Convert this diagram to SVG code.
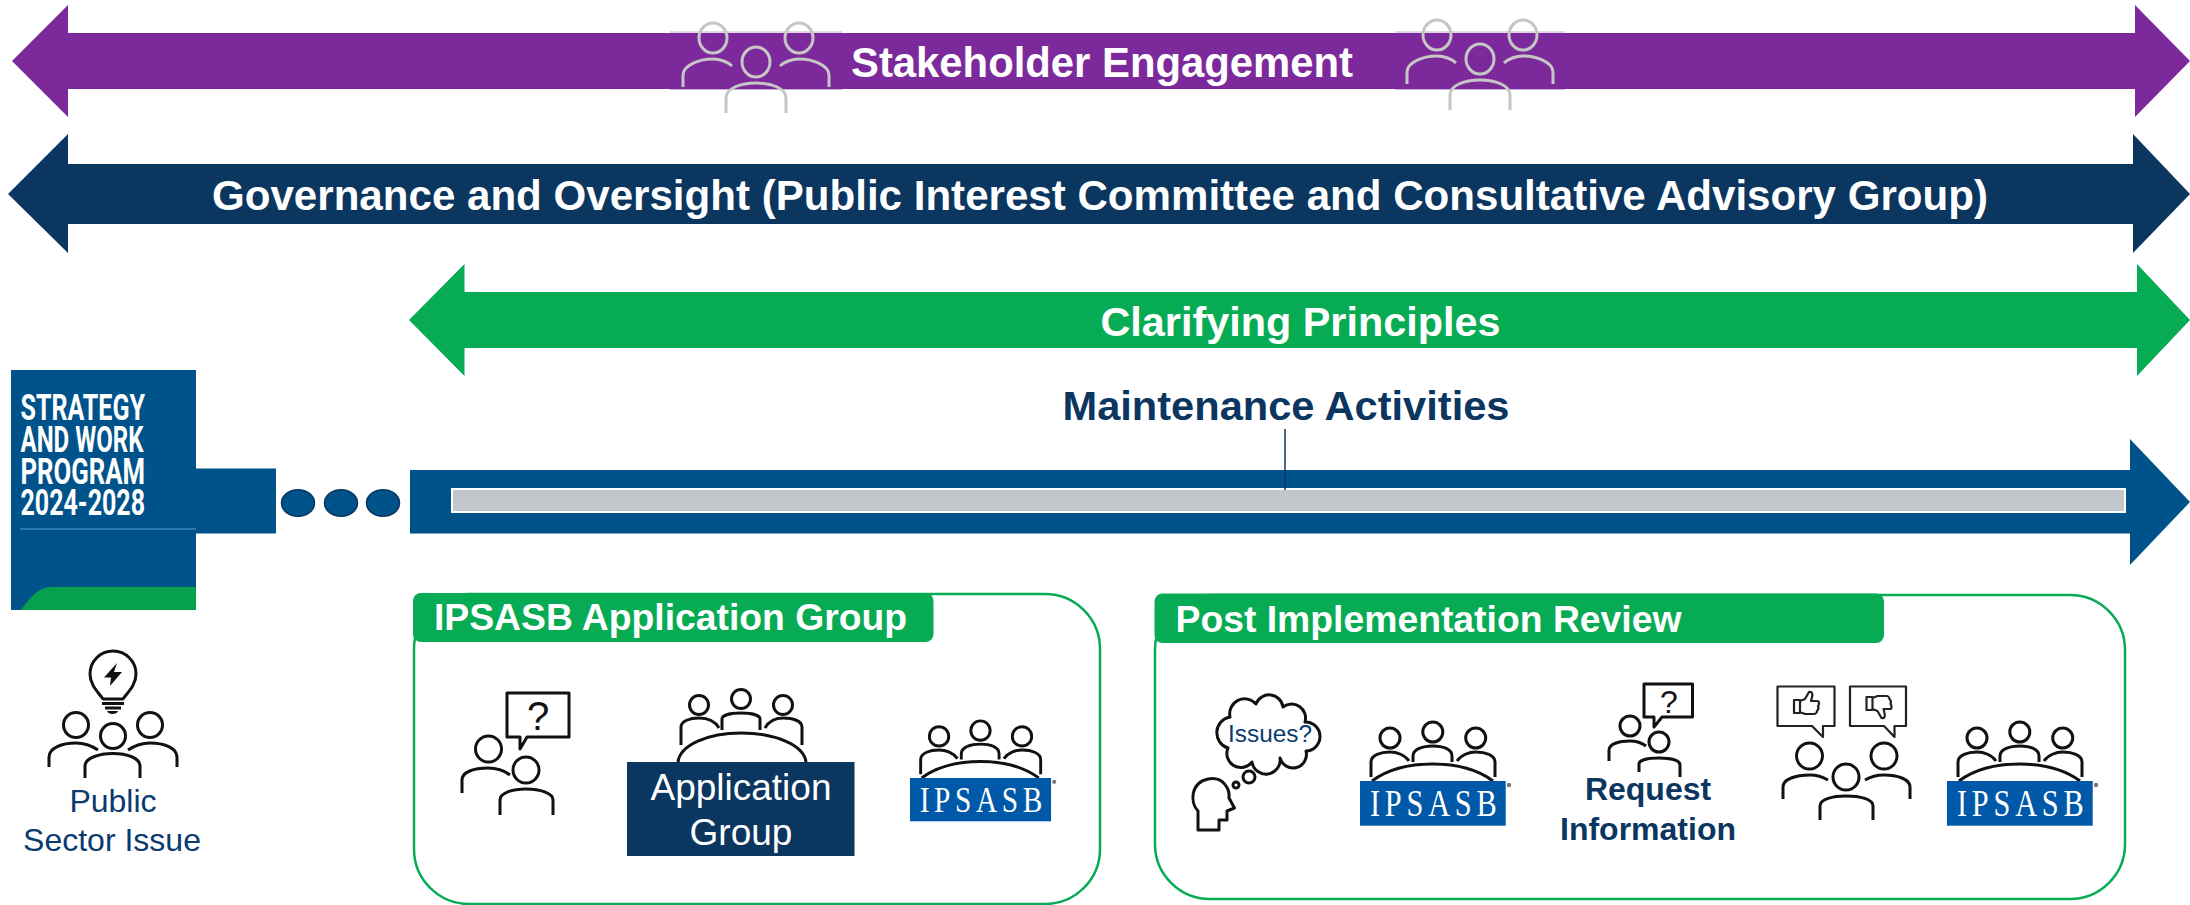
<svg xmlns="http://www.w3.org/2000/svg" width="2190" height="905" viewBox="0 0 2190 905">
<style>
text{font-family:"Liberation Sans",Arial,sans-serif}
.w{fill:#fff}.b{font-weight:700}.n{fill:#0a365f}
.ic{fill:none;stroke:#111;stroke-width:3;stroke-linecap:butt;stroke-linejoin:round}
.th{fill:none;stroke:#222;stroke-width:2.2;stroke-linejoin:round}
.gr{fill:none;stroke:#c6c6c6;stroke-width:3}
.panel{fill:#fff;stroke:#07ab54;stroke-width:2.5}
.tab{fill:#07ab54}
.q{fill:#111}
.cov{font-family:Roboto,sans-serif;font-size:36px;font-weight:700;fill:#fff}
.dot{fill:#00538a;stroke:#0a365f;stroke-width:1.5}
</style>
<defs>
<g id="ipsasb-logo">
<circle class="ic" cx="30" cy="-43" r="10"/><circle class="ic" cx="72.8" cy="-49" r="10"/><circle class="ic" cx="115.7" cy="-43" r="10"/>
<path class="ic" d="M11 -4V-19C11 -26 21 -29 30 -29C37 -29 45 -26 49 -20"/>
<path class="ic" d="M53 -19V-25C53 -32 63 -35 72.8 -35C83 -35 92 -32 92 -25V-19"/>
<path class="ic" d="M97 -20C101 -26 109 -29 116 -29C125 -29 135 -26 135 -19V-4"/>
<path class="ic" d="M12 0C28 -12 50 -17 72.8 -17C95 -17 117 -12 133 0"/>
<rect x="0" y="0" width="145.7" height="44.7" fill="#0058a8"/>
<text transform="translate(10,35) scale(.82,1)" font-size="37" textLength="154.500" lengthAdjust="spacing" class="w" style="font-family:'Liberation Serif',serif">IPSASB</text>
<circle cx="149" cy="4" r="2.2" fill="#777"/>
</g>
<path id="thumb" class="th" d="M-12 -4H-6V9H-12ZM-6 -3L-1 -5L3 -12C6 -13 7 -10 6 -7L5 -3H11C14 -3 13 1 12 2C13 4 12 6 11 7C11 9 9 10 8 10H-1L-6 8"/>
<g id="stake">
<ellipse class="gr" cx="-43" cy="0" rx="14" ry="15"/><ellipse class="gr" cx="43" cy="0" rx="14" ry="15"/><ellipse class="gr" cx="0" cy="24" rx="14" ry="15"/>
<path class="gr" d="M-73 49V37C-73 28 -58 21 -43 21C-36 21 -28 24 -24 28"/>
<path class="gr" d="M73 49V37C73 28 58 21 43 21C36 21 28 24 24 28"/>
<path class="gr" d="M-30 75V60C-30 50 -15 45 0 45C15 45 30 50 30 60V75"/>
</g>
</defs>
<rect width="2190" height="905" fill="#fff"/>

<g id="connectors">
<rect x="196" y="468.500" width="80" height="65" fill="#00538a"/>
<ellipse class="dot" cx="298" cy="503" rx="16.500" ry="13.300"/>
<ellipse class="dot" cx="341" cy="503" rx="16.500" ry="13.300"/>
<ellipse class="dot" cx="383" cy="503" rx="16.500" ry="13.300"/>
</g>

<g id="stakeholder-engagement">
<polygon points="12,61 68,5 68,33 2135,33 2135,5 2190,61 2135,117 2135,89 68,89 68,117" fill="#7c2a9b"/>
<path d="M670 32H842M670 89.500H842M1395 32H1565M1395 89.500H1565" stroke="#c7aed3" stroke-width="1" fill="none"/>
<use href="#stake" transform="translate(756,38)"/>
<use href="#stake" transform="translate(1480,35)"/>
<text x="851" y="77" font-size="41.800" textLength="502" lengthAdjust="spacingAndGlyphs" class="w b">Stakeholder Engagement</text>
</g>

<g id="governance">
<polygon points="8,194 68,134 68,164 2133,164 2133,134 2190,194 2133,253 2133,224 68,224 68,253" fill="#0a365f"/>
<text x="212" y="210" font-size="41.800" textLength="1776" lengthAdjust="spacingAndGlyphs" class="w b">Governance and Oversight (Public Interest Committee and Consultative Advisory Group)</text>
</g>

<g id="clarifying-principles">
<polygon points="409,320 464.500,264 464.500,292 2137,292 2137,264 2190,320 2137,376 2137,348 464.500,348 464.500,376" fill="#07ab54"/>
<text x="1100.500" y="336" font-size="41.500" textLength="400" lengthAdjust="spacingAndGlyphs" class="w b">Clarifying Principles</text>
</g>

<g id="maintenance-activities">
<polygon points="410,470 2130,470 2130,439 2190,502 2130,565 2130,533.500 410,533.500" fill="#00538a"/>
<rect x="452" y="489" width="1673" height="23" fill="#c1c6ca" stroke="#fff" stroke-width="2"/>
<line x1="1285" y1="429" x2="1285" y2="490" stroke="#0a365f" stroke-width="1.500"/>
<text x="1062.500" y="420" font-size="41.500" textLength="447" lengthAdjust="spacingAndGlyphs" class="n b">Maintenance Activities</text>
</g>

<g id="strategy-cover">
<rect x="11" y="370" width="185" height="240" fill="#00538a"/>
<path d="M21 610C30 598 38 587 52 587H196V610Z" fill="#07a04c"/>
<line x1="20" y1="529" x2="196" y2="529" stroke="#5b9fd0" stroke-width="1"/>
<text class="cov" x="20.500" y="419.500" textLength="124.500" lengthAdjust="spacingAndGlyphs">STRATEGY</text>
<text class="cov" x="20.500" y="452" textLength="123" lengthAdjust="spacingAndGlyphs">AND WORK</text>
<text class="cov" x="20.500" y="483.500" textLength="124.500" lengthAdjust="spacingAndGlyphs">PROGRAM</text>
<text class="cov" x="20.500" y="514.500" textLength="124.500" lengthAdjust="spacingAndGlyphs">2024-2028</text>
</g>

<g id="public-sector-issue">
<path class="ic" d="M103 699C98 692 90 685 90 674A23 23 0 0 1 136 674C136 685 128 692 123 699Z"/>
<path class="ic" d="M102 703.500H124M105 708H121"/>
<path d="M107 711H118C117 715 108 715 107 711Z" fill="#111"/>
<polygon points="117,663 104,677.500 111,677.500 110,686 122,672 114,672" fill="#111"/>
<circle class="ic" cx="76" cy="725" r="12.500"/><circle class="ic" cx="150" cy="725" r="12.500"/><circle class="ic" cx="113" cy="736" r="12.500"/>
<path class="ic" d="M49 767V757C49 748 62 743 76 743C84 743 92 746 98 750"/>
<path class="ic" d="M177 767V757C177 748 164 743 150 743C142 743 134 746 128 750"/>
<path class="ic" d="M85 778V766C85 758 99 753.500 113 753.500C127 753.500 140 758 140 766V778"/>
<text x="113" y="812" font-size="32" text-anchor="middle" fill="#0a3b6e">Public</text>
<text x="112" y="851" font-size="32" text-anchor="middle" fill="#0a3b6e">Sector Issue</text>
</g>

<g id="application-group-panel">
<rect class="panel" x="414" y="594" width="686" height="310" rx="55"/>
<rect class="tab" x="413" y="593" width="520.500" height="49" rx="8"/>
<text x="434" y="630" font-size="37.200" textLength="473" lengthAdjust="spacingAndGlyphs" class="w b">IPSASB Application Group</text>
</g>

<g id="application-question">
<path class="ic" d="M507 693H569V737H527L520 749V737H507Z"/>
<text x="538" y="730" text-anchor="middle" font-size="40" class="q">?</text>
<circle class="ic" cx="488.500" cy="749" r="13"/><circle class="ic" cx="526" cy="770" r="13"/>
<path class="ic" d="M462 793V780C462 772 474 768 488 768C497 768 505 771 510 775"/>
<path class="ic" d="M500 815V800C500 793 512 789 526 789C540 789 553 793 553 800V815"/>
</g>

<g id="application-group">
<circle class="ic" cx="699" cy="705" r="9.500"/><circle class="ic" cx="741" cy="699" r="9.500"/><circle class="ic" cx="783" cy="705" r="9.500"/>
<path class="ic" d="M681 745V727C681 721 690 718 699 718C707 718 715 721 719 728"/>
<path class="ic" d="M722 730V719C722 715 731 713 741 713C751 713 760 715 760 719V730"/>
<path class="ic" d="M765 728C769 721 776 718 783 718C793 718 802 721 802 727V745"/>
<path class="ic" d="M678 762C680 745 708 733 741 733C775 733 804 745 806 762"/>
<rect x="627" y="762" width="227.500" height="94" fill="#0a365f"/>
<text x="741" y="800" font-size="37" text-anchor="middle" class="w">Application</text>
<text x="741" y="845" font-size="37" text-anchor="middle" class="w">Group</text>
</g>

<g id="ipsasb-application"><use href="#ipsasb-logo" transform="translate(910,778) scale(.968)"/></g>

<g id="post-implementation-panel">
<rect class="panel" x="1155" y="595" width="970" height="304" rx="55"/>
<rect class="tab" x="1154.500" y="593.500" width="729.500" height="49.500" rx="8"/>
<text x="1175.500" y="632" font-size="37.300" textLength="506" lengthAdjust="spacingAndGlyphs" class="w b">Post Implementation Review</text>
</g>

<g id="issues-thought">
<path class="ic" d="M1230 717A15 15 0 0 1 1256 704A14 14 0 0 1 1283 707A14 14 0 0 1 1305 722A14 14 0 0 1 1306 751A13 13 0 0 1 1280 758A13 13 0 0 1 1252 762A14 14 0 0 1 1228 748A16 16 0 0 1 1230 717Z"/>
<text x="1228" y="741.500" font-size="24.500" textLength="84" lengthAdjust="spacingAndGlyphs" fill="#0a3b6e">Issues?</text>
<circle class="ic" cx="1249" cy="777" r="6"/><circle class="ic" cx="1236" cy="785" r="3"/>
<path class="ic" d="M1198 830V811C1190 803 1190 783 1208 779C1224 776 1230 790 1229 798L1234.500 808L1227 811V820H1219V830Z"/>
</g>

<g id="ipsasb-review-1"><use href="#ipsasb-logo" transform="translate(1360,781)"/></g>

<g id="request-information">
<path class="ic" d="M1644 684H1692.500V717H1662L1654 727V717H1644Z" stroke-width="2.200"/>
<text x="1669" y="712.500" text-anchor="middle" font-size="32" class="q">?</text>
<circle class="ic" cx="1630" cy="726" r="10"/><circle class="ic" cx="1659" cy="742" r="10"/>
<path class="ic" d="M1609 761V750C1609 744 1619 741 1630 741C1636 741 1642 743 1646 746"/>
<path class="ic" d="M1639 772V764C1639 760 1648 758 1659 758C1670 758 1680 760 1680 765V777"/>
<text x="1648" y="800" font-size="32" text-anchor="middle" class="n b">Request</text>
<text x="1648" y="840" font-size="32" text-anchor="middle" class="n b">Information</text>
</g>

<g id="feedback">
<path class="th" d="M1777.500 686.500H1834.500V726H1823V737L1812 726H1777.500Z"/>
<path class="th" d="M1850 686.500H1906V726H1894.500V737L1884 726H1850Z"/>
<use href="#thumb" transform="translate(1806,704)"/>
<use href="#thumb" transform="translate(1878.500,706) scale(1,-1)"/>
<circle class="ic" cx="1809.500" cy="756" r="13"/><circle class="ic" cx="1884" cy="756" r="13"/><circle class="ic" cx="1846" cy="777" r="13"/>
<path class="ic" d="M1783 799V787C1783 779 1796 775 1810 775C1817 775 1823 777 1828 780"/>
<path class="ic" d="M1910 799V787C1910 779 1897 775 1884 775C1877 775 1870 777 1865 780"/>
<path class="ic" d="M1820 820V806C1820 799 1833 796 1846 796C1860 796 1873 799 1873 806V820"/>
</g>

<g id="ipsasb-review-2"><use href="#ipsasb-logo" transform="translate(1947,781)"/></g>
</svg>
